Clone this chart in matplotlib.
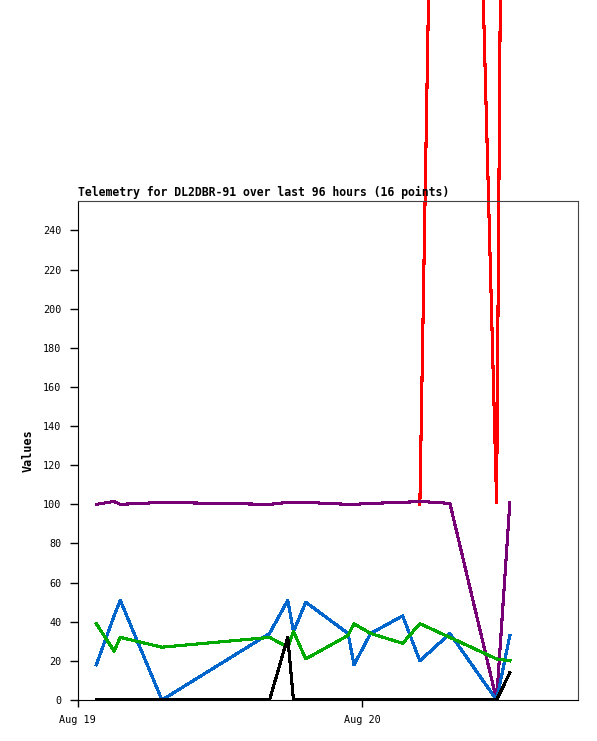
import matplotlib
matplotlib.use('Agg')
import matplotlib.pyplot as plt
import matplotlib.dates as mdates
import numpy as np
import pandas as pd

# telemetry samples (16 points)
times = pd.to_datetime([
    '2024-08-19 01:35', '2024-08-19 03:05', '2024-08-19 03:36', '2024-08-19 07:07',
    '2024-08-19 16:11', '2024-08-19 17:43', '2024-08-19 18:12', '2024-08-19 19:14',
    '2024-08-19 22:48', '2024-08-19 23:18', '2024-08-20 00:42', '2024-08-20 03:24',
    '2024-08-20 04:51', '2024-08-20 07:23', '2024-08-20 11:19', '2024-08-20 12:26',
])
nan = np.nan
red = [nan, nan, nan, nan, nan, nan, nan, nan, nan, nan, nan, nan, 100, 1000, 101, 1030]
purple = [100, 101.5, 100, 101, 100, 101, 101, 101, 100, 100, 100.5, 101, 101.5, 100.5, 0, 101]
blue = [18, 43, 51, 0, 34, 51, 35, 50, 34, 18, 34, 43, 20, 34, 0, 33]
green = [39, 25, 32, 27, 32, 27, 35, 21, 33, 39, 34, 29, 39, 32, 21, 20]
black = [0, 0, 0, 0, 0, 32, 0, 0, 0, 0, 0, 0, 0, 0, 0, 14]

x_start = pd.Timestamp('2024-08-19 00:00')
x_end = pd.Timestamp('2024-08-20 18:08')

plt.rcParams['font.family'] = 'DejaVu Sans Mono'

fig = plt.figure(figsize=(5.97, 7.41), dpi=100)
ax = fig.add_axes([77.5 / 597, 41 / 741, 500 / 597, 499.5 / 741])

lw = 1.5
ax.plot(times, red, color='#ff0000', lw=lw, clip_on=False, antialiased=False)
ax.plot(times, purple, color='#770077', lw=lw, antialiased=False)
ax.plot(times, blue, color='#0066cc', lw=lw, antialiased=False)
ax.plot(times, green, color='#00aa00', lw=lw, antialiased=False)
ax.plot(times, black, color='#000000', lw=lw, antialiased=False)

ax.set_xlim(x_start, x_end)
ax.set_ylim(0, 255.3)
ax.set_yticks(range(0, 241, 20))
ax.xaxis.set_major_locator(mdates.DayLocator())
ax.xaxis.set_major_formatter(mdates.DateFormatter('%b %d'))

ax.tick_params(axis='y', direction='out', length=6, width=1, pad=5.5, labelsize=7.3)
ax.tick_params(axis='x', direction='out', length=5, width=1, pad=5.5, labelsize=7.3)

ax.spines['left'].set_color('black')
ax.spines['bottom'].set_color('black')
ax.spines['top'].set_color('#444444')
ax.spines['right'].set_color('#444444')

ax.set_title('Telemetry for DL2DBR-91 over last 96 hours (16 points)',
             loc='left', pad=3, fontsize=8.3, fontweight='bold')
ax.set_ylabel('Values', fontsize=8.5, fontweight='bold')
ax.yaxis.set_label_coords(-0.085, 0.5)

fig.savefig('out.png', dpi=100)
